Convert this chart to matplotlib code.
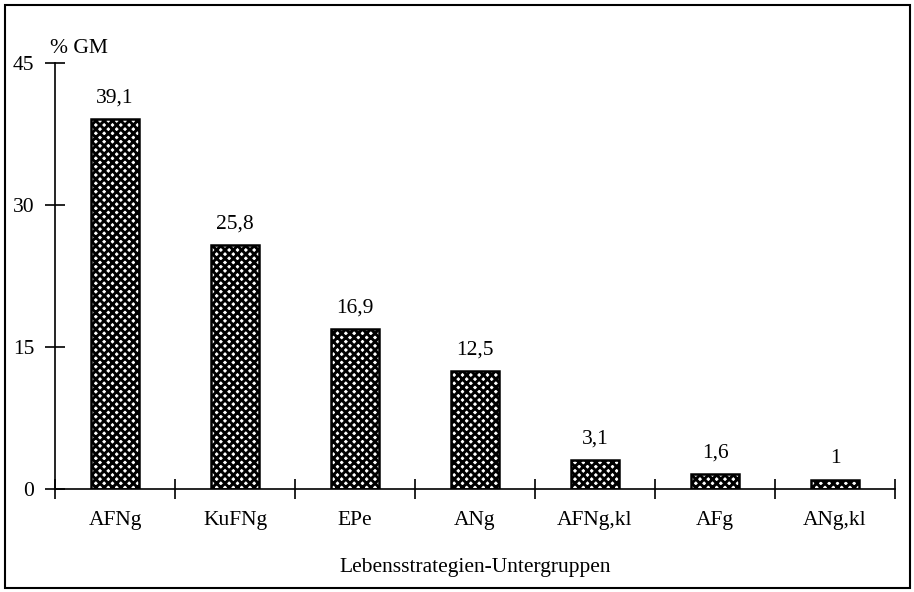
import matplotlib
matplotlib.use("Agg")
import matplotlib.pyplot as plt
from matplotlib.patches import Rectangle

categories = ["AFNg", "KuFNg", "EPe", "ANg", "AFNg,kl", "AFg", "ANg,kl"]
values = [39.1, 25.8, 16.9, 12.5, 3.1, 1.6, 1.0]
labels = ["39,1", "25,8", "16,9", "12,5", "3,1", "1,6", "1"]
yticks = [0, 15, 30, 45]

plt.rcParams['font.family'] = ['Liberation Serif', 'DejaVu Serif']
plt.rcParams['hatch.linewidth'] = 2.1

FS = 15.5
fig = plt.figure(figsize=(9.14, 5.92), dpi=100)
ax = fig.add_axes([0.0602, 0.174, 0.919, 0.720])

pos = [i + 0.5 for i in range(len(categories))]
bars = ax.bar(pos, values, width=0.4, color='white', edgecolor='black',
              hatch='xxxx', linewidth=1.8)
for p, v, l in zip(pos, values, labels):
    ax.annotate(l, (p, v), xytext=(0, 8), textcoords='offset points',
                ha='center', va='bottom', fontsize=FS)

ax.set_xlim(0, len(categories))
ax.set_ylim(0, 45)
ax.set_xticks(range(len(categories) + 1))
ax.set_xticklabels([])
ax.set_xticks(pos, minor=True)
ax.set_xticklabels(categories, minor=True, fontsize=FS)
ax.tick_params(axis='x', which='minor', length=0, pad=16)
ax.tick_params(axis='x', which='major', direction='inout', length=14, width=1.2)
ax.set_yticks(yticks)
ax.set_yticklabels([str(t) for t in yticks], fontsize=FS)
ax.tick_params(axis='y', direction='inout', length=14, width=1.2, pad=8)
for s in ['top', 'right']:
    ax.spines[s].set_visible(False)
for s in ['left', 'bottom']:
    ax.spines[s].set_linewidth(1.2)

ax.set_xlabel("Lebensstrategien-Untergruppen", fontsize=FS, labelpad=20)
fig.text(0.055, 0.918, "% GM", fontsize=FS, ha='left', va='center')

fig.patches.append(Rectangle((0.005, 0.007), 0.991, 0.985, transform=fig.transFigure,
                             fill=False, edgecolor='black', linewidth=1.5))

fig.savefig("out.png", dpi=100)
